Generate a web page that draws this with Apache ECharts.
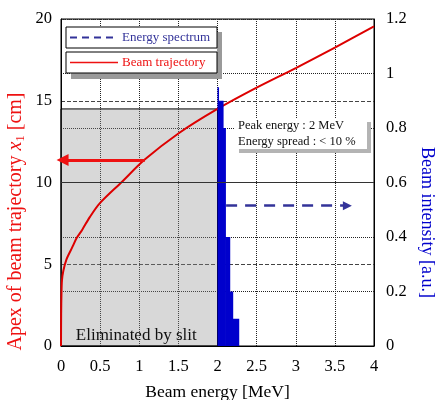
<!DOCTYPE html>
<html><head><meta charset="utf-8">
<script src="https://cdn.jsdelivr.net/npm/echarts@6/dist/echarts.min.js"></script>
<style>html,body{margin:0;padding:0;background:#fff}#c{width:435px;height:400px}</style>
</head><body><div id="c"></div>
<script>
// ---- data ----
const trajEnergy = [0, 0.002, 0.006, 0.012, 0.03, 0.07, 0.14, 0.2, 0.27, 0.37, 0.5, 0.77, 1.07, 1.5, 2.0, 2.5, 3.0, 3.5, 4.0];
const trajApex   = [0, 2.0, 3.2, 4.0, 4.6, 5.3, 6.0, 6.6, 7.1, 7.9, 8.75, 10.0, 11.4, 13.0, 14.5, 15.8, 17.0, 18.25, 19.55];
const binEdges   = [2.0, 2.012, 2.07, 2.1, 2.155, 2.193, 2.27];
const binValues  = [0.95, 0.90, 0.80, 0.40, 0.20, 0.10];
const slitApex   = 14.5;          // cm, apex eliminated below this
const slitEnergy = 2.0;           // MeV
const redArrow   = [[1.07, 11.37], [0.02, 11.37]];
const blueArrow  = [[2.11, 0.515], [3.66, 0.515]];
const energyTicksInterval = 0.5;
const apexTicksInterval = 5;
const intensityTicksInterval = 0.2;

const FONT = 'Liberation Serif';
const trajData = trajEnergy.map((e, i) => [e, trajApex[i]]);
const binData = binValues.map((v, i) => [binEdges[i], binEdges[i + 1], v]);

const chart = echarts.init(document.getElementById('c'));
chart.setOption({
  animation: false,
  textStyle: { fontFamily: FONT },
  grid: { left: 61, right: 61, top: 19, bottom: 54, show: true, borderColor: '#000', borderWidth: 1,
          containLabel: false, outerBoundsMode: 'none' },
  xAxis: {
    type: 'value', min: 0, max: 4, interval: energyTicksInterval,
    name: 'Beam energy [MeV]', nameLocation: 'middle', nameGap: 37,
    nameTextStyle: { fontSize: 17.5, color: '#000', fontFamily: FONT },
    axisLine: { lineStyle: { color: '#000' } }, axisTick: { show: false },
    axisLabel: { fontSize: 16.5, color: '#000', margin: 12, fontFamily: FONT },
    splitLine: { lineStyle: { type: 'dotted', color: '#222' } }
  },
  yAxis: [{
    type: 'value', min: 0, max: 20, interval: apexTicksInterval, position: 'left',
    name: 'Apex of beam trajectory {i|x}{s|1} [cm]', nameLocation: 'middle', nameGap: 34, nameRotate: 90,
    nameMoveOverlap: false,
    nameTextStyle: { fontSize: 20, color: '#ee1111', fontFamily: FONT, padding: [0, 78, 0, 0],
      rich: { i: { fontStyle: 'italic', fontSize: 20, color: '#ee1111', fontFamily: FONT },
              s: { fontSize: 13, color: '#ee1111', fontFamily: FONT, padding: [9, 0, 0, 0] } } },
    axisLine: { show: true, lineStyle: { color: '#000' } }, axisTick: { show: false },
    axisLabel: { fontSize: 16.5, color: '#000', margin: 9, fontFamily: FONT },
    splitLine: { lineStyle: { type: 'dashed', color: '#444' } }
  }, {
    type: 'value', min: 0, max: 1.2, interval: intensityTicksInterval, position: 'right',
    name: 'Beam intensity [a.u.]', nameLocation: 'middle', nameGap: 43, nameRotate: -90,
    nameTextStyle: { fontSize: 18, color: '#0000cc', fontFamily: FONT, padding: [0, 0, 0, 80] },
    axisLine: { show: true, lineStyle: { color: '#000' } }, axisTick: { show: false },
    axisLabel: { fontSize: 16.5, color: '#000', margin: 12, fontFamily: FONT, formatter: v => String(+v.toFixed(1)) },
    splitLine: { lineStyle: { type: 'dotted', color: '#222' } }
  }],
  series: [{
    name: 'Beam trajectory', type: 'line', xAxisIndex: 0, yAxisIndex: 0, z: 2,
    data: trajData, showSymbol: false, smooth: 0.3,
    lineStyle: { color: '#dd0000', width: 2 }, itemStyle: { color: '#dd0000' },
    markLine: { silent: true, symbol: 'none', label: { show: false },
      lineStyle: { type: 'solid', color: '#333', width: 1 }, data: [{ yAxis: 10 }] }
  }, {
    name: 'Slit', type: 'line', xAxisIndex: 0, yAxisIndex: 0, z: 3, data: [],
    markArea: { silent: true,
      itemStyle: { color: 'rgba(140,140,140,0.34)', borderColor: '#000', borderWidth: 1 },
      label: { show: true, position: 'insideBottom', distance: 2, color: '#111', fontSize: 17, fontFamily: FONT,
               formatter: 'Eliminated by slit', offset: [-3, 0] },
      data: [[{ coord: [0, 0] }, { coord: [slitEnergy, slitApex] }]] }
  }, {
    name: 'Energy spectrum', type: 'custom', xAxisIndex: 0, yAxisIndex: 1, z: 4,
    data: binData, encode: { x: [0, 1], y: 2 },
    renderItem: function (params, api) {
      const p0 = api.coord([api.value(0), api.value(2)]);
      const p1 = api.coord([api.value(1), 0]);
      return { type: 'rect', shape: { x: p0[0], y: p0[1], width: p1[0] - p0[0] + 0.6, height: p1[1] - p0[1] },
               style: { fill: '#0000cc' } };
    }
  }, {
    name: 'Arrows', type: 'line', xAxisIndex: 0, yAxisIndex: 0, z: 5, data: [],
    markLine: { silent: true, symbol: ['none', 'triangle'], symbolSize: [12, 12], label: { show: false },
      lineStyle: { type: 'solid', color: '#ee1111', width: 3 },
      data: [[{ coord: redArrow[0] }, { coord: redArrow[1] }]] }
  }, {
    name: 'Arrows2', type: 'line', xAxisIndex: 0, yAxisIndex: 1, z: 5, data: [],
    markLine: { silent: true, symbol: ['none', 'triangle'], symbolSize: [9, 9], label: { show: false },
      lineStyle: { type: [11, 8], color: '#333399', width: 2.5 },
      data: [[{ coord: blueArrow[0] }, { coord: blueArrow[1] }]] }
  }],
  graphic: [
    { type: 'rect', z: 100, shape: { x: 71, y: 32, width: 151, height: 47 }, style: { fill: '#9a9a9a' } },
    { type: 'rect', z: 101, shape: { x: 66, y: 27, width: 151, height: 46 }, style: { fill: '#fff' } },
    { type: 'rect', z: 102, shape: { x: 66, y: 27, width: 151, height: 21 }, style: { fill: '#fff', stroke: '#000', lineWidth: 1 } },
    { type: 'rect', z: 102, shape: { x: 66, y: 52, width: 151, height: 21 }, style: { fill: '#fff', stroke: '#000', lineWidth: 1 } },
    { type: 'line', z: 103, shape: { x1: 70, y1: 37.5, x2: 118, y2: 37.5 }, style: { stroke: '#333399', lineWidth: 2, lineDash: [7, 5] } },
    { type: 'line', z: 103, shape: { x1: 70, y1: 62.5, x2: 118, y2: 62.5 }, style: { stroke: '#ee1111', lineWidth: 1.5 } },
    { type: 'text', z: 103, x: 122, y: 37.5, style: { text: 'Energy spectrum', fill: '#333399', font: '13px "Liberation Serif"', verticalAlign: 'middle' } },
    { type: 'text', z: 103, x: 122, y: 62.5, style: { text: 'Beam trajectory', fill: '#ee1111', font: '13px "Liberation Serif"', verticalAlign: 'middle' } },
    { type: 'rect', z: 100, shape: { x: 239, y: 122, width: 132, height: 31 }, style: { fill: '#b4b4b4' } },
    { type: 'rect', z: 101, shape: { x: 235, y: 118, width: 132, height: 31 }, style: { fill: '#fff' } },
    { type: 'text', z: 102, x: 238, y: 126, style: { text: 'Peak energy : 2 MeV', fill: '#111', font: '12.5px "Liberation Serif"', verticalAlign: 'middle' } },
    { type: 'text', z: 102, x: 238, y: 142, style: { text: 'Energy spread : < 10 %', fill: '#111', font: '12.5px "Liberation Serif"', verticalAlign: 'middle' } }
  ]
});
</script>
</body></html>
